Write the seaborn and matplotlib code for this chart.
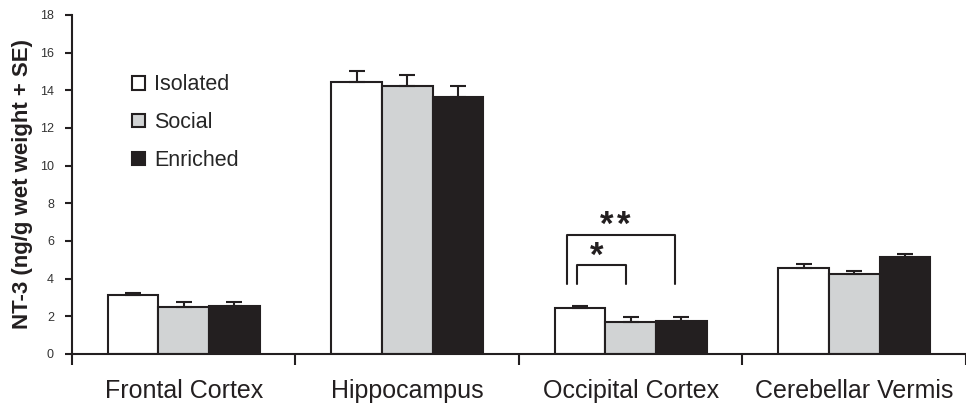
import numpy as np
import pandas as pd
import seaborn as sns
import matplotlib.pyplot as plt
from matplotlib.patches import Patch

# data
regions = ["Frontal Cortex", "Hippocampus", "Occipital Cortex", "Cerebellar Vermis"]
groups = ["Isolated", "Social", "Enriched"]
isolated = [3.13, 14.46, 2.46, 4.55]
social = [2.51, 14.25, 1.72, 4.23]
enriched = [2.56, 13.62, 1.77, 5.13]
isolated_se = [0.09, 0.57, 0.09, 0.23]
social_se = [0.25, 0.57, 0.26, 0.19]
enriched_se = [0.20, 0.63, 0.21, 0.20]
yticks = [0, 2, 4, 6, 8, 10, 12, 14, 16, 18]

df = pd.DataFrame({
    "region": regions * 3,
    "group": [g for g in groups for _ in regions],
    "value": isolated + social + enriched,
    "se": isolated_se + social_se + enriched_se,
})

sns.set_theme(style="ticks")
plt.rcParams["font.family"] = ["Liberation Sans", "DejaVu Sans"]

ink = "#231f20"
colors = ["#ffffff", "#d1d3d4", ink]

fig = plt.figure(figsize=(9.66, 4.12), dpi=100)
ax = fig.add_axes([0.0745, 0.1408, 0.9255, 0.8228])

sns.barplot(data=df, x="region", y="value", hue="group", order=regions,
            hue_order=groups, palette=colors, width=0.68, errorbar=None,
            edgecolor=ink, linewidth=1.5, saturation=1, legend=False, ax=ax)

# upward-only SE bars
for bars, g in zip(ax.containers, groups):
    sub = df[df.group == g].set_index("region").loc[regions]
    xs = [b.get_x() + b.get_width() / 2 for b in bars]
    ax.errorbar(xs, sub["value"], yerr=[np.zeros(len(xs)), sub["se"]],
                fmt="none", ecolor=ink, elinewidth=1.5, capsize=5.8,
                capthick=1.5, zorder=1)

# significance brackets in occipital cortex
ax.plot([1.714, 1.714, 2.196, 2.196], [3.72, 6.32, 6.32, 3.72], color=ink, lw=1.5)
ax.plot([1.759, 1.759, 1.978, 1.978], [3.72, 4.74, 4.74, 3.72], color=ink, lw=1.5)
for sx, sy in [(1.893, 6.3), (1.969, 6.3), (1.848, 4.7)]:
    ax.text(sx, sy, "*", ha="center", va="baseline", fontsize=25,
            fontweight="bold", color=ink)

ax.set_xlim(-0.5, 3.5)
ax.set_ylim(0, 18)
ax.set_yticks(yticks)
ax.set_yticklabels([str(t) for t in yticks], fontsize=9, color="#333333")
ax.tick_params(axis="y", length=5, width=1.5, pad=8, color=ink)

# category boundaries as major ticks, names on minor ticks
ax.set_xticks([-0.5, 0.5, 1.5, 2.5, 3.5])
ax.set_xticklabels([])
ax.set_xticks(range(len(regions)), minor=True)
ax.set_xticklabels(regions, minor=True, fontsize=18, color=ink)
ax.tick_params(axis="x", which="major", length=8, width=1.5, color=ink)
ax.tick_params(axis="x", which="minor", length=0, pad=18)

ax.set_xlabel("")
ax.set_ylabel("NT-3 (ng/g wet weight + SE)", fontsize=16, fontweight="bold",
              color=ink)
ax.yaxis.set_label_coords(-0.0436, 0.5)

sns.despine(ax=ax)
for s in ["left", "bottom"]:
    ax.spines[s].set_linewidth(1.5)
    ax.spines[s].set_color(ink)

handles = [Patch(facecolor=c, edgecolor=ink, linewidth=1.5) for c in colors]
ax.legend(handles, groups, loc="upper left", bbox_to_anchor=(0.058, 0.85),
          frameon=False, fontsize=15.5, handlelength=0.6, handleheight=0.6,
          handletextpad=0.4, labelspacing=0.78, borderaxespad=0)

fig.savefig("out.png", dpi=100)
